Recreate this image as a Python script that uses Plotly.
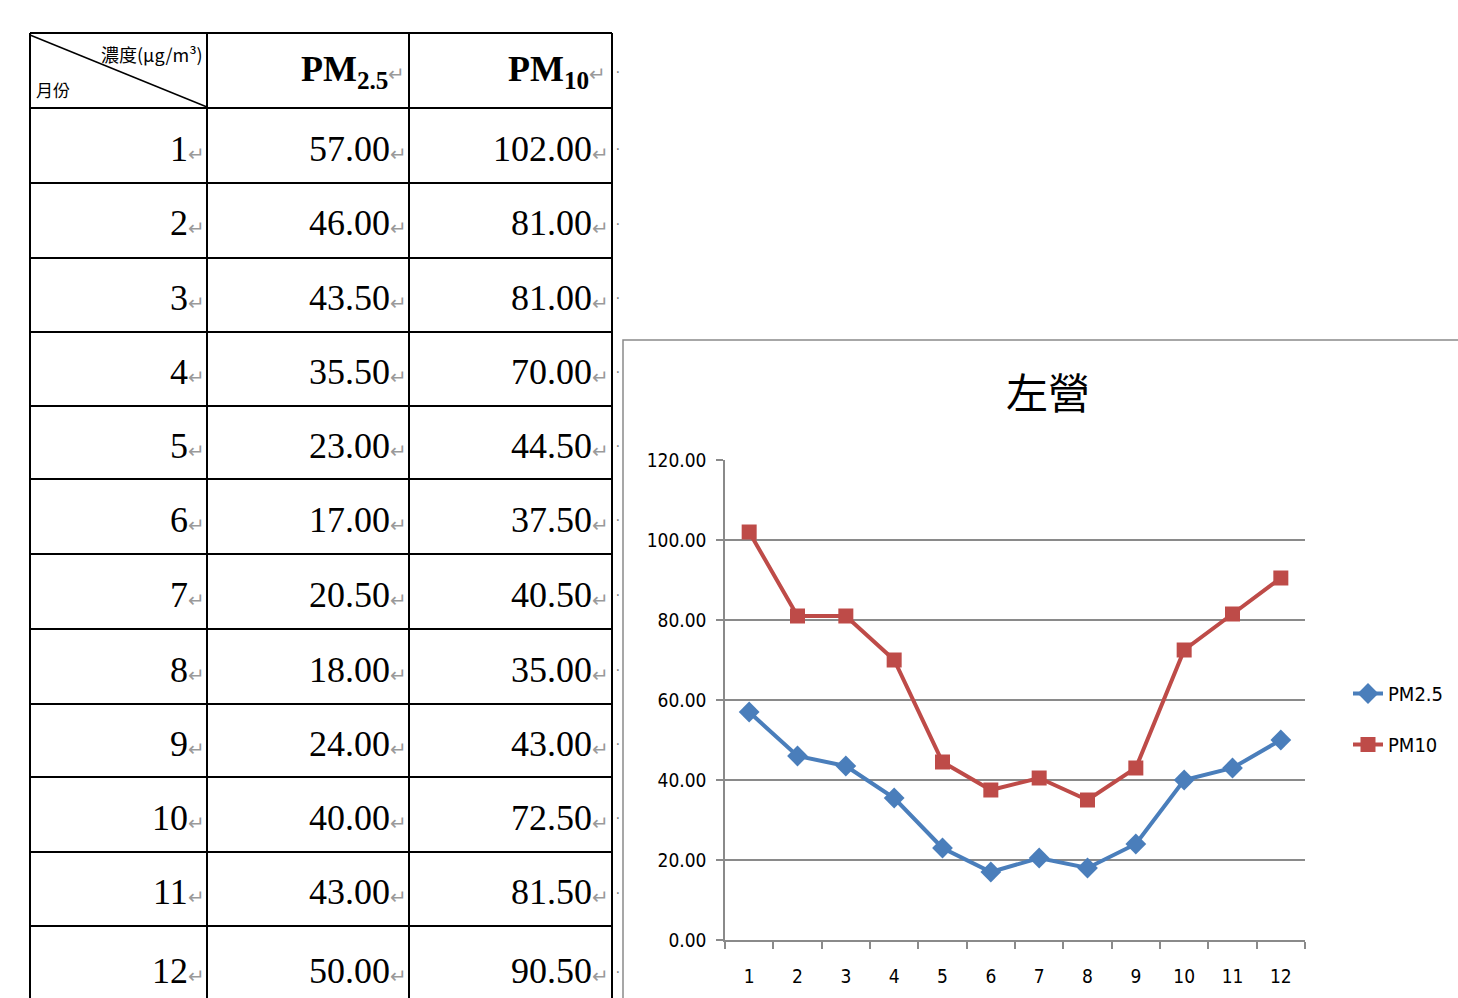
import plotly.graph_objects as go

# ---- data ----
months = [1, 2, 3, 4, 5, 6, 7, 8, 9, 10, 11, 12]
pm25 = [57.00, 46.00, 43.50, 35.50, 23.00, 17.00, 20.50, 18.00, 24.00, 40.00, 43.00, 50.00]
pm10 = [102.00, 81.00, 81.00, 70.00, 44.50, 37.50, 40.50, 35.00, 43.00, 72.50, 81.50, 90.50]
series_names = ["PM2.5", "PM10"]
chart_title = "左營"
header_conc = "濃度(μg/m³)"
header_month = "月份"
y_ticks = [0, 20, 40, 60, 80, 100, 120]

W, H = 1458, 998


def X(px):
    return px / W


def Y(py):
    return 1 - py / H


fig = go.Figure()

# ---- chart traces ----
fig.add_trace(go.Scatter(
    x=months, y=pm25, name=series_names[0], mode="lines+markers",
    line=dict(color="#4A7EBB", width=4),
    marker=dict(symbol="diamond", size=16, color="#4A7EBB"),
    legendgroup="a",
))
fig.add_trace(go.Scatter(
    x=months, y=pm10, name=series_names[1], mode="lines+markers",
    line=dict(color="#BE4B48", width=4),
    marker=dict(symbol="square", size=15, color="#BE4B48"),
    legendgroup="b",
))

shapes = []
annotations = []

# ---- chart frame ----
shapes.append(dict(type="rect", xref="paper", yref="paper",
                   x0=X(623), x1=X(1475), y0=Y(340), y1=Y(1010),
                   line=dict(color="#8a8a8a", width=1.5), layer="below"))

annotations.append(dict(text=chart_title, x=X(1048), y=Y(390), xref="paper", yref="paper",
                        showarrow=False, xanchor="center", yanchor="middle",
                        font=dict(family="Noto Sans CJK TC", size=42, color="#000")))

# ---- table ----
col_x = [30, 207, 409, 612]
row_y = [33, 108, 183, 258, 332, 406, 479, 554, 629, 704, 777, 852, 926, 1010]
for cx in col_x:
    shapes.append(dict(type="line", xref="paper", yref="paper",
                       x0=X(cx), x1=X(cx), y0=Y(row_y[0]), y1=Y(row_y[-1]),
                       line=dict(color="#000", width=2)))
for ry in row_y[:-1]:
    shapes.append(dict(type="line", xref="paper", yref="paper",
                       x0=X(col_x[0]), x1=X(col_x[-1]), y0=Y(ry), y1=Y(ry),
                       line=dict(color="#000", width=2)))
# diagonal in header cell
shapes.append(dict(type="line", xref="paper", yref="paper",
                   x0=X(30), x1=X(207), y0=Y(35), y1=Y(107),
                   line=dict(color="#000", width=1.5)))

ret = '<span style="color:#9a9a9a;font-size:20px">↵</span>'
num_font = dict(family="Liberation Serif", size=36, color="#000")

annotations.append(dict(text=header_conc,
                        x=X(205), y=Y(54), xref="paper", yref="paper",
                        showarrow=False, xanchor="right", yanchor="middle",
                        font=dict(family="Noto Sans CJK TC", size=18, color="#000")))
annotations.append(dict(text=header_month,
                        x=X(34), y=Y(89), xref="paper", yref="paper",
                        showarrow=False, xanchor="left", yanchor="middle",
                        font=dict(family="Noto Sans CJK TC", size=17, color="#000")))
annotations.append(dict(text="<b>PM</b><sub><b>2.5</b></sub>" + ret,
                        x=X(407), y=Y(72), xref="paper", yref="paper",
                        showarrow=False, xanchor="right", yanchor="middle",
                        font=dict(family="Liberation Serif", size=36, color="#000")))
annotations.append(dict(text="<b>PM</b><sub><b>10</b></sub>" + ret,
                        x=X(608), y=Y(72), xref="paper", yref="paper",
                        showarrow=False, xanchor="right", yanchor="middle",
                        font=dict(family="Liberation Serif", size=36, color="#000")))

for i, m in enumerate(months):
    ty = (row_y[i + 1] + row_y[i + 2]) / 2 + 3
    annotations.append(dict(text=f"{m}" + ret, x=X(207), y=Y(ty), xref="paper", yref="paper",
                            showarrow=False, xanchor="right", yanchor="middle", font=num_font))
    annotations.append(dict(text=f"{pm25[i]:.2f}" + ret, x=X(409), y=Y(ty), xref="paper", yref="paper",
                            showarrow=False, xanchor="right", yanchor="middle", font=num_font))
    annotations.append(dict(text=f"{pm10[i]:.2f}" + ret, x=X(611), y=Y(ty), xref="paper", yref="paper",
                            showarrow=False, xanchor="right", yanchor="middle", font=num_font))
    annotations.append(dict(text="·", x=X(618), y=Y(ty), xref="paper", yref="paper",
                            showarrow=False, xanchor="center", yanchor="middle",
                            font=dict(size=14, color="#777")))
annotations.append(dict(text="·", x=X(618), y=Y(72), xref="paper", yref="paper",
                        showarrow=False, xanchor="center", yanchor="middle",
                        font=dict(size=14, color="#777")))

axis_font = dict(family="DejaVu Sans Condensed", size=19, color="#000")

fig.update_layout(
    width=W, height=H, autosize=False,
    margin=dict(l=0, r=0, t=0, b=0, pad=0, autoexpand=False),
    paper_bgcolor="white", plot_bgcolor="white",
    shapes=shapes, annotations=annotations,
    showlegend=True,
    legend=dict(x=X(1348), y=Y(674), xanchor="left", yanchor="top",
                font=dict(family="DejaVu Sans Condensed", size=20, color="#000"),
                traceorder="grouped", tracegroupgap=22,
                bgcolor="rgba(0,0,0,0)", itemwidth=30),
    xaxis=dict(domain=[X(725), X(1305)], range=[0.5, 12.5],
               tickvals=months, ticktext=[str(m) for m in months],
               ticks="", showgrid=False, zeroline=False,
               showline=True, linecolor="#8a8a8a", linewidth=1.5,
               tickfont=axis_font, ticklabelstandoff=18,
               minor=dict(ticks="outside", tick0=0.5, dtick=1, ticklen=7,
                          tickcolor="#8a8a8a", tickwidth=1.5, showgrid=False),
               fixedrange=True),
    yaxis=dict(domain=[Y(940), Y(460)], range=[0, 120],
               tickvals=y_ticks, tickformat=".2f",
               ticks="outside", ticklen=7, tickcolor="#8a8a8a", tickwidth=1.5,
               showgrid=True, gridcolor="#8a8a8a", gridwidth=1.5,
               zeroline=False, showline=True, linecolor="#8a8a8a", linewidth=1.5,
               tickfont=axis_font, ticklabelstandoff=6,
               fixedrange=True),
)

fig.write_html("out.html", config={"displayModeBar": False})
